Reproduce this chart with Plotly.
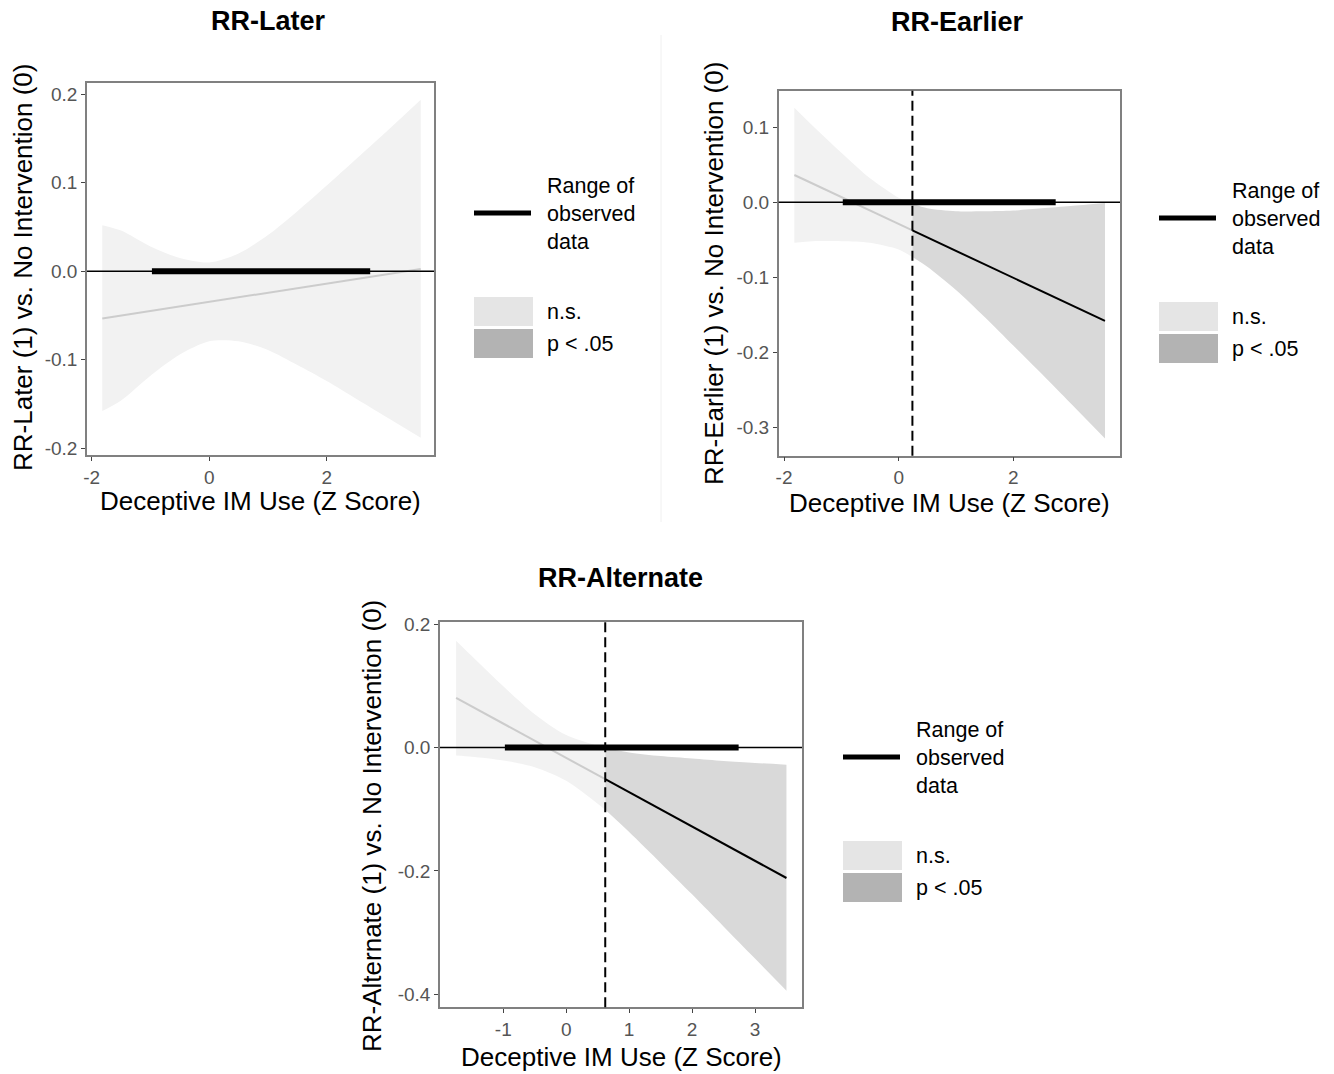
import plotly.graph_objects as go

W, H = 1334, 1074

# ---------------- data ----------------
titles = ["RR-Later", "RR-Earlier", "RR-Alternate"]
y_titles = ["RR-Later (1) vs. No Intervention (0)",
            "RR-Earlier (1) vs. No Intervention (0)",
            "RR-Alternate (1) vs. No Intervention (0)"]
x_title = "Deceptive IM Use (Z Score)"

later_x = [-1.82, -1.5, -1, -0.5, 0, 0.5, 1, 1.5, 2, 2.5, 3, 3.6]
later_est = [-0.0533, -0.0500, -0.0449, -0.0397, -0.0345, -0.0294, -0.0242, -0.0191, -0.0139, -0.0088, -0.0036, 0.0026]
later_up = [0.052, 0.046, 0.028, 0.015, 0.010, 0.020, 0.041, 0.068, 0.097, 0.127, 0.157, 0.194]
later_lo = [-0.158, -0.146, -0.118, -0.094, -0.079, -0.079, -0.089, -0.106, -0.124, -0.144, -0.164, -0.188]
later_jn = None

earlier_x = [-1.82, -1.5, -1, -0.5, 0, 0.24, 0.5, 1, 1.5, 2, 2.5, 3, 3.6]
earlier_est = [0.0364, 0.0250, 0.0070, -0.0110, -0.0289, -0.0375, -0.0469, -0.0648, -0.0828, -0.1007, -0.1187, -0.1366, -0.1581]
earlier_up = [0.126, 0.102, 0.066, 0.032, 0.006, -0.002, -0.008, -0.012, -0.012, -0.011, -0.008, -0.005, -0.001]
earlier_lo = [-0.054, -0.052, -0.052, -0.054, -0.063, -0.073, -0.086, -0.117, -0.153, -0.191, -0.229, -0.268, -0.315]
earlier_jn = 0.24

alt_x = [-1.75, -1.5, -1, -0.5, 0, 0.62, 1, 1.5, 2, 2.5, 3, 3.5]
alt_est = [0.0804, 0.0665, 0.0387, 0.0109, -0.0169, -0.0514, -0.0725, -0.1003, -0.1281, -0.1559, -0.1837, -0.2115]
alt_up = [0.173, 0.148, 0.099, 0.054, 0.020, -0.001, -0.008, -0.014, -0.018, -0.022, -0.025, -0.028]
alt_lo = [-0.013, -0.015, -0.021, -0.032, -0.054, -0.101, -0.137, -0.187, -0.238, -0.290, -0.342, -0.394]
alt_jn = 0.62

observed_range = [-0.975, 2.74]

x_ticks = [[-2, 0, 2], [-2, 0, 2], [-1, 0, 1, 2, 3]]
y_ticks = [[-0.2, -0.1, 0.0, 0.1, 0.2], [-0.3, -0.2, -0.1, 0.0, 0.1], [-0.4, -0.2, 0.0, 0.2]]
y_ticklabels = [["-0.2", "-0.1", "0.0", "0.1", "0.2"],
                ["-0.3", "-0.2", "-0.1", "0.0", "0.1"],
                ["-0.4", "-0.2", "0.0", "0.2"]]
legend_labels = ["Range of<br>observed<br>data", "n.s.", "p < .05"]

# ---------------- layout geometry (pixels) ----------------
boxes = [  # left, right, top, bottom
    (87, 434, 83, 455),
    (778.7, 1120, 90.7, 455.7),
    (440, 802, 622.3, 1007.3),
]
x_ranges = [[-2.08, 3.826], [-2.093, 3.862], [-2.006, 3.747]]
y_ranges = [[-0.2076, 0.2128], [-0.3379, 0.1488], [-0.421, 0.2028]]
title_pos = [(268, 21), (957, 22), (620, 578)]
ytitle_pos = [(23, 268), (714, 273), (372, 826)]
xtitle_pos = [(260, 501), (949, 503), (621, 1057)]
legend_pos = [(474, 213), (1159, 218), (843, 757)]

NS_BAND = "#f2f2f2"
SIG_BAND = "#d9d9d9"
NS_LINE = "#cccccc"
NS_KEY = "#e5e5e5"
SIG_KEY = "#b3b3b3"
FONT = "Liberation Sans, Arial, sans-serif"
TFONT = "Liberation Sans Narrow, Arial Narrow, Liberation Sans, Arial, sans-serif"

def px(x):
    return x / W

def py(y):
    return 1 - y / H

fig = go.Figure()
shapes = []
annotations = []

panels = [
    (later_x, later_est, later_up, later_lo, later_jn),
    (earlier_x, earlier_est, earlier_up, earlier_lo, earlier_jn),
    (alt_x, alt_est, alt_up, alt_lo, alt_jn),
]

for i, (xs, est, up, lo, jn) in enumerate(panels):
    n = i + 1
    xa = "x" if n == 1 else f"x{n}"
    ya = "y" if n == 1 else f"y{n}"
    xaxis_key = "xaxis" if n == 1 else f"xaxis{n}"
    yaxis_key = "yaxis" if n == 1 else f"yaxis{n}"

    if jn is None:
        ns_idx = list(range(len(xs)))
        sig_idx = []
    else:
        ns_idx = [k for k, v in enumerate(xs) if v <= jn]
        sig_idx = [k for k, v in enumerate(xs) if v >= jn]

    for idx, band_col in ((ns_idx, NS_BAND), (sig_idx, SIG_BAND)):
        if not idx:
            continue
        sx = [xs[k] for k in idx]
        fig.add_trace(go.Scatter(x=sx, y=[lo[k] for k in idx], mode="lines",
                                 line=dict(width=0, shape="spline", smoothing=0.8),
                                 xaxis=xa, yaxis=ya, showlegend=False, hoverinfo="skip"))
        fig.add_trace(go.Scatter(x=sx, y=[up[k] for k in idx], mode="lines",
                                 line=dict(width=0, shape="spline", smoothing=0.8),
                                 fill="tonexty", fillcolor=band_col,
                                 xaxis=xa, yaxis=ya, showlegend=False, hoverinfo="skip"))
    for idx, line_col in ((ns_idx, NS_LINE), (sig_idx, "black")):
        if not idx:
            continue
        fig.add_trace(go.Scatter(x=[xs[k] for k in idx], y=[est[k] for k in idx], mode="lines",
                                 line=dict(color=line_col, width=2),
                                 xaxis=xa, yaxis=ya, showlegend=False, hoverinfo="skip"))

    # zero reference line across the panel
    shapes.append(dict(type="line", xref=f"{xa} domain", yref=ya, x0=0, x1=1, y0=0, y1=0,
                       line=dict(color="black", width=1.6), layer="above"))
    # range of observed data
    fig.add_trace(go.Scatter(x=observed_range, y=[0, 0], mode="lines",
                             line=dict(color="black", width=6),
                             xaxis=xa, yaxis=ya, showlegend=False, hoverinfo="skip"))
    # Johnson-Neyman dashed line
    if jn is not None:
        shapes.append(dict(type="line", xref=xa, yref=f"{ya} domain", x0=jn, x1=jn, y0=0, y1=1,
                           line=dict(color="black", width=2, dash="10px,5px"), layer="above"))

    l, r, t, b = boxes[i]
    axis_common = dict(showline=True, linecolor="#808080", linewidth=1.5, mirror=True,
                       ticks="outside", ticklen=4, tickcolor="#444", tickwidth=1.2,
                       showgrid=False, zeroline=False, automargin=False,
                       tickfont=dict(family=FONT, size=19, color="#555555"))
    fig.update_layout(**{
        xaxis_key: dict(domain=[px(l), px(r)], range=x_ranges[i], anchor=ya,
                        tickvals=x_ticks[i], ticktext=[str(v) for v in x_ticks[i]], **axis_common),
        yaxis_key: dict(domain=[py(b), py(t)], range=y_ranges[i], anchor=xa,
                        tickvals=y_ticks[i], ticktext=y_ticklabels[i], **axis_common),
    })

    # titles
    tx, ty = title_pos[i]
    annotations.append(dict(text=f"<b>{titles[i]}</b>", x=px(tx), y=py(ty), xref="paper", yref="paper",
                            showarrow=False, xanchor="center", yanchor="middle",
                            font=dict(family=TFONT, size=27, color="black")))
    yx, yy = ytitle_pos[i]
    annotations.append(dict(text=y_titles[i], x=px(yx), y=py(yy), xref="paper", yref="paper",
                            showarrow=False, textangle=-90, xanchor="center", yanchor="middle",
                            font=dict(family=FONT, size=26, color="black")))
    xx, xy = xtitle_pos[i]
    annotations.append(dict(text=x_title, x=px(xx), y=py(xy), xref="paper", yref="paper",
                            showarrow=False, xanchor="center", yanchor="middle",
                            font=dict(family=FONT, size=26, color="black")))

    # legend
    lx, ly = legend_pos[i]
    shapes.append(dict(type="line", xref="paper", yref="paper", x0=px(lx), x1=px(lx + 57),
                       y0=py(ly), y1=py(ly), line=dict(color="black", width=5)))
    annotations.append(dict(text=legend_labels[0], x=px(lx + 71), y=py(ly + 1), xref="paper", yref="paper",
                            showarrow=False, xanchor="left", yanchor="middle", align="left",
                            font=dict(family=FONT, size=21.5, color="black")))
    for j, (col, lab) in enumerate(((NS_KEY, legend_labels[1]), (SIG_KEY, legend_labels[2]))):
        y0 = ly + 84 + j * 32
        shapes.append(dict(type="rect", xref="paper", yref="paper", x0=px(lx), x1=px(lx + 59),
                           y0=py(y0), y1=py(y0 + 29), fillcolor=col, line=dict(width=0)))
        annotations.append(dict(text=lab, x=px(lx + 71), y=py(y0 + 15), xref="paper", yref="paper",
                                showarrow=False, xanchor="left", yanchor="middle",
                                font=dict(family=FONT, size=21.5, color="black")))

# faint separator between top panels
shapes.append(dict(type="line", xref="paper", yref="paper", x0=px(661), x1=px(661),
                   y0=py(35), y1=py(522), line=dict(color="#f0f0f0", width=1)))

fig.update_layout(template="none", width=W, height=H, autosize=False,
                  margin=dict(l=0, r=0, t=0, b=0, pad=0, autoexpand=False),
                  paper_bgcolor="white", plot_bgcolor="white",
                  showlegend=False, shapes=shapes, annotations=annotations)

fig.write_html("out.html", config={"displayModeBar": False},
               post_script="document.body.style.margin='0';document.body.style.overflow='hidden';")
